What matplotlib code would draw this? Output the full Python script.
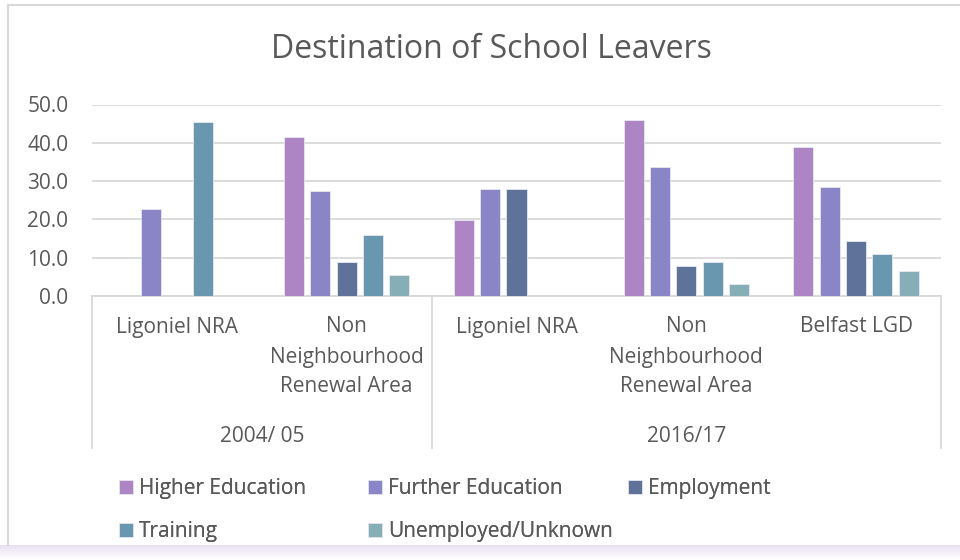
import numpy as np
import matplotlib.pyplot as plt
from matplotlib.colors import LinearSegmentedColormap
from matplotlib.lines import Line2D
from matplotlib.transforms import blended_transform_factory

plt.rcParams['font.family'] = ['Open Sans', 'DejaVu Sans']

categories = ['Ligoniel NRA', 'Non\nNeighbourhood\nRenewal Area',
              'Ligoniel NRA', 'Non\nNeighbourhood\nRenewal Area', 'Belfast LGD']
years = ['2004/ 05', '2016/17']
year_groups = [(0, 1), (2, 4)]  # first and last category of each year

series = ['Higher Education', 'Further Education', 'Employment',
          'Training', 'Unemployed/Unknown']
higher = [np.nan, 41.6, 19.9, 45.9, 39.0]
further = [22.7, 27.4, 27.9, 33.7, 28.5]
employment = [np.nan, 8.8, 27.9, 7.8, 14.4]
training = [45.4, 15.9, np.nan, 8.8, 10.9]
unemployed = [np.nan, 5.6, np.nan, 3.2, 6.5]
values = [higher, further, employment, training, unemployed]
colors = ['#AE85C4', '#8985C7', '#5F7299', '#6997B0', '#86AEB6']

txt = '#595959'
grid_c = '#d9d9d9'
W, H = 960, 560

fig = plt.figure(figsize=(9.6, 5.6), dpi=100)
ax = fig.add_axes([92 / W, 1 - 296 / H, (941 - 92) / W, (296 - 104.5) / H])

x = np.arange(len(categories))
step = 0.155
bw = 0.118
for i, (name, vals, c) in enumerate(zip(series, values, colors)):
    ax.bar(x + (i - 2) * step, vals, bw, color=c, label=name,
           edgecolor='#e8e8f0', linewidth=0.6, zorder=3)

ax.set_xlim(-0.5, len(categories) - 0.5)
ax.set_ylim(0, 50)
ax.set_yticks(np.arange(0, 51, 10))
ax.set_yticklabels([f'{v:.1f}' for v in np.arange(0, 51, 10)])
ax.tick_params(axis='y', length=0, pad=17, labelsize=15, labelcolor=txt)
ax.set_xticks([])
ax.grid(axis='y', color=grid_c, linewidth=1.3, zorder=0)
for s in ['top', 'right', 'left']:
    ax.spines[s].set_visible(False)
ax.spines['bottom'].set_color(grid_c)
ax.spines['bottom'].set_linewidth(1.3)

# multi-level category axis below the plot
tr = blended_transform_factory(ax.transData, fig.transFigure)
for xi, lab in zip(x, categories):
    for k, line in enumerate(lab.split('\n')):
        ax.text(xi, 1 - (327 + 30 * k) / H, line, transform=tr,
                ha='center', va='center', fontsize=15, color=txt)

for yr, (a, b) in zip(years, year_groups):
    ax.text((a + b) / 2, 1 - 436 / H, yr, transform=tr,
            ha='center', va='center', fontsize=15, color=txt)

for xs in [-0.5, 1.5, len(categories) - 0.5]:
    ax.add_line(Line2D([xs, xs], [1 - 296 / H, 1 - 448 / H], transform=tr,
                       color=grid_c, linewidth=1.3, clip_on=False))

fig.text(491 / W, 1 - 50 / H, 'Destination of School Leavers',
         ha='center', va='center', fontsize=23, color=txt)

# legend: Excel lays entries out in equal-width columns, row by row
h, l = ax.get_legend_handles_labels()
columns = [[0, 3], [1, 4], [2]]
col_x = [109, 358, 618]
for cx, idx in zip(col_x, columns):
    leg = fig.legend([h[i] for i in idx], [l[i] for i in idx],
                     loc='upper left', bbox_to_anchor=(cx / W, 1 - 468 / H),
                     frameon=False, fontsize=15, labelcolor=txt,
                     handlelength=0.65, handleheight=0.65, handletextpad=0.3,
                     labelspacing=1.05, borderpad=0)
    fig.add_artist(leg)

# chart border (left and top) and bottom shade
fig.add_artist(Line2D([8 / W, 8 / W, 1], [15 / H, 1 - 5 / H, 1 - 5 / H],
                      transform=fig.transFigure, color=grid_c, linewidth=1.5))
shade = fig.add_axes([0, 0, 1, 15 / H])
grad = np.linspace(0, 1, 15)[:, None]
shade.imshow(grad, aspect='auto', extent=[0, 1, 0, 1],
             cmap=LinearSegmentedColormap.from_list('sh', ['#e9e0f3', '#ffffff']))
shade.axis('off')

fig.savefig('out.png', dpi=100)
